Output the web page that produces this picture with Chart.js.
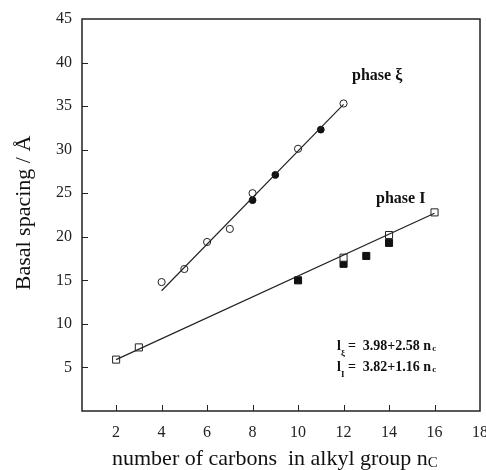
<!DOCTYPE html>
<html>
<head>
<meta charset="utf-8">
<script src="https://cdn.jsdelivr.net/npm/chart.js@4.4.0/dist/chart.umd.min.js"></script>
<style>
  html, body { margin: 0; padding: 0; background: #fff; }
  #wrap { width: 486px; height: 470px; }
</style>
</head>
<body>
<div id="wrap"><canvas id="chart" width="486" height="470"></canvas></div>
<script>
// phase xi: open and filled circles
const xiOpenX = [4, 5, 6, 7, 8, 10, 12];
const xiOpenY = [14.8, 16.3, 19.4, 20.9, 25.0, 30.1, 35.3];
const xiFilledX = [8, 9, 11];
const xiFilledY = [24.2, 27.1, 32.3];
// phase I: open and filled squares
const iOpenX = [2, 3, 12, 14, 16];
const iOpenY = [5.9, 7.3, 17.6, 20.2, 22.8];
const iFilledX = [10, 12, 13, 14];
const iFilledY = [15.0, 16.9, 17.8, 19.3];
// fitted lines (end points)
const xiLineX = [4, 12];
const xiLineY = [13.8, 35.2];
const iLineX = [2, 16];
const iLineY = [5.9, 22.7];

const xTicks = [2, 4, 6, 8, 10, 12, 14, 16, 18];
const yTicks = [5, 10, 15, 20, 25, 30, 35, 40, 45];

const serif = '"Liberation Serif", "Times New Roman", serif';

function pts(xs, ys) {
    return xs.map((x, i) => ({ x: x, y: ys[i] }));
}

const frame = {
    id: 'frame',
    afterDraw(chart) {
        const { ctx, chartArea: a, scales: { x, y } } = chart;
        ctx.save();
        ctx.strokeStyle = '#222';
        ctx.lineWidth = 1.5;
        ctx.strokeRect(a.left, a.top, a.right - a.left, a.bottom - a.top);
        ctx.lineWidth = 1;
        ctx.beginPath();
        xTicks.forEach(v => {
            if (v >= 18) return;
            const px = Math.round(x.getPixelForValue(v)) + 0.5;
            ctx.moveTo(px, a.bottom);
            ctx.lineTo(px, a.bottom - 6);
        });
        yTicks.forEach(v => {
            if (v >= 45) return;
            const py = Math.round(y.getPixelForValue(v)) + 0.5;
            ctx.moveTo(a.left, py);
            ctx.lineTo(a.left + 6, py);
        });
        ctx.stroke();

        ctx.fillStyle = '#111';
        // labels of the two phases
        ctx.font = 'bold 16px ' + serif;
        ctx.textBaseline = 'middle';
        ctx.fillText('phase \u03be', 352, 76);
        ctx.fillText('phase I', 376, 199);

        // fit equations
        function eq(yPos, sub, text) {
            let px = 337;
            ctx.font = 'bold 14px ' + serif;
            ctx.fillText('l', px, yPos);
            px += ctx.measureText('l').width;
            ctx.font = 'bold 9px ' + serif;
            ctx.fillText(sub, px, yPos + 8);
            px += 7;
            ctx.font = 'bold 14px ' + serif;
            ctx.fillText(text, px, yPos);
            px += ctx.measureText(text).width + 1;
            ctx.font = 'bold 9px ' + serif;
            ctx.fillText('c', px, yPos + 3);
        }
        eq(346, '\u03be', '=  3.98+2.58 n');
        eq(367, 'I', '=  3.82+1.16 n');

        // x axis title with subscript
        ctx.font = '22px ' + serif;
        const main = 'number of carbons  in alkyl group n';
        const w = ctx.measureText(main).width;
        const x0 = 112;
        ctx.fillText(main, x0, 459);
        ctx.font = '15px ' + serif;
        ctx.fillText('C', x0 + w, 463);

        // y axis title
        ctx.save();
        ctx.translate(24, 213);
        ctx.rotate(-Math.PI / 2);
        ctx.font = '22px ' + serif;
        ctx.textAlign = 'center';
        ctx.fillText('Basal spacing / \u00c5', 0, 0);
        ctx.restore();
        ctx.restore();
    }
};

const lineStyle = {
    type: 'line',
    borderColor: '#222',
    borderWidth: 1.2,
    pointRadius: 0,
    fill: false,
    showLine: true
};

new Chart(document.getElementById('chart'), {
    type: 'scatter',
    data: {
        datasets: [
            Object.assign({ label: 'fit xi', data: pts(xiLineX, xiLineY) }, lineStyle),
            Object.assign({ label: 'fit I', data: pts(iLineX, iLineY) }, lineStyle),
            {
                label: 'xi open', data: pts(xiOpenX, xiOpenY),
                pointStyle: 'circle', pointRadius: 3.6,
                backgroundColor: '#fff', borderColor: '#222', borderWidth: 1
            },
            {
                label: 'xi filled', data: pts(xiFilledX, xiFilledY),
                pointStyle: 'circle', pointRadius: 3.4,
                backgroundColor: '#111', borderColor: '#111', borderWidth: 1
            },
            {
                label: 'I open', data: pts(iOpenX, iOpenY),
                pointStyle: 'rect', pointRadius: 5,
                backgroundColor: '#fff', borderColor: '#222', borderWidth: 1
            },
            {
                label: 'I filled', data: pts(iFilledX, iFilledY),
                pointStyle: 'rect', pointRadius: 5,
                backgroundColor: '#111', borderColor: '#111', borderWidth: 1
            }
        ]
    },
    options: {
        responsive: false,
        animation: false,
        layout: { padding: { top: 19, right: 6, left: 0, bottom: 0 } },
        plugins: { legend: { display: false }, tooltip: { enabled: false } },
        scales: {
            x: {
                type: 'linear', min: 0.5, max: 18,
                afterBuildTicks: s => { s.ticks = xTicks.map(v => ({ value: v })); },
                afterFit: s => { s.height = 59; s.paddingLeft = 0; s.paddingRight = 0; },
                grid: { display: false, drawTicks: false },
                border: { display: false },
                ticks: {
                    color: '#222', padding: 12,
                    font: { family: serif, size: 16 }
                }
            },
            y: {
                type: 'linear', min: 0, max: 45,
                afterBuildTicks: s => { s.ticks = yTicks.map(v => ({ value: v })); },
                afterFit: s => { s.width = 82; s.paddingTop = 0; s.paddingBottom = 0; },
                grid: { display: false, drawTicks: false },
                border: { display: false },
                ticks: {
                    color: '#222', padding: 10,
                    font: { family: serif, size: 16 }
                }
            }
        }
    },
    plugins: [frame]
});
</script>
</body>
</html>
